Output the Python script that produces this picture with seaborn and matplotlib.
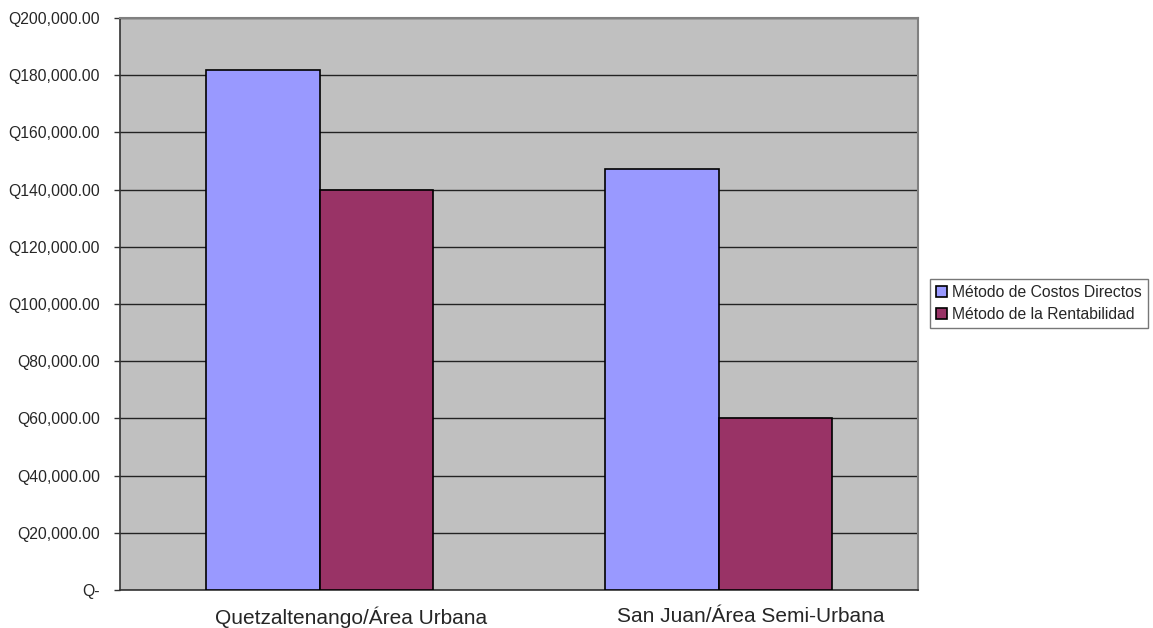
import matplotlib
matplotlib.use("Agg")
import matplotlib.pyplot as plt
import matplotlib.ticker as mticker
import matplotlib.transforms as mtransforms
import seaborn as sns
import pandas as pd

zonas = ["Quetzaltenango/Área Urbana", "San Juan/Área Semi-Urbana"]
metodos = ["Método de Costos Directos", "Método de la Rentabilidad"]
costos_directos = [181800, 147300]
rentabilidad = [140000, 60000]
colores = ["#9999FF", "#993366"]

df = pd.DataFrame({
    "zona": zonas * 2,
    "metodo": [metodos[0]] * 2 + [metodos[1]] * 2,
    "valor": costos_directos + rentabilidad,
})

sns.set_style("white")
plt.rcParams["font.family"] = ["Liberation Sans", "DejaVu Sans"]

fig = plt.figure(figsize=(11.53, 6.28), dpi=100)
ax = fig.add_axes([120 / 1153, 1 - 590 / 628, 798 / 1153, 572 / 628])
ax.set_facecolor("#C0C0C0")

sns.barplot(data=df, x="zona", y="valor", hue="metodo", hue_order=metodos,
            palette=colores, width=0.57, saturation=1, edgecolor="black",
            linewidth=1.2, ax=ax, legend=True, zorder=3)

ax.set_xlim(-0.5, 1.5)
ax.set_ylim(0, 200000)
ax.yaxis.set_major_locator(mticker.MultipleLocator(20000))
ax.yaxis.set_major_formatter(mticker.FuncFormatter(
    lambda v, p: "Q-" if v == 0 else f"Q{v:,.2f}"))
ax.grid(axis="y", color="#222222", linewidth=1.0, zorder=1)
ax.set_axisbelow(True)

ax.set_xticks([0, 1])
ax.set_xticklabels(zonas, fontsize=15)
ax.set_xticks([-0.5, 0.5, 1.5], minor=True)
ax.tick_params(axis="x", which="major", length=0, pad=12)
ax.tick_params(axis="x", which="minor", length=4, width=1, color="#333333")
ax.tick_params(axis="y", length=4, width=1, color="#333333", labelsize=11.3, pad=10.5, left=True)
ax.set_xlabel("")
ax.set_ylabel("")

# Excel shifts the category labels a little to the right
shift = mtransforms.ScaledTranslation(0.32, 0, fig.dpi_scale_trans)
for lbl in ax.get_xticklabels():
    lbl.set_transform(lbl.get_transform() + shift)

for s in ["top", "right"]:
    ax.spines[s].set_color("#808080")
    ax.spines[s].set_linewidth(1.5)
for s in ["left", "bottom"]:
    ax.spines[s].set_color("#333333")
    ax.spines[s].set_linewidth(1.2)

leg = ax.legend(loc="center left", bbox_to_anchor=(930 / 1153, 1 - 303.5 / 628),
                bbox_transform=fig.transFigure, frameon=True, fancybox=False,
                fontsize=11.3, handlelength=0.7, handleheight=0.7,
                handletextpad=0.3, borderpad=0.4, labelspacing=0.4,
                borderaxespad=0)
leg.get_frame().set_edgecolor("#555555")
leg.get_frame().set_linewidth(1.0)

fig.savefig("out.png", dpi=100)
